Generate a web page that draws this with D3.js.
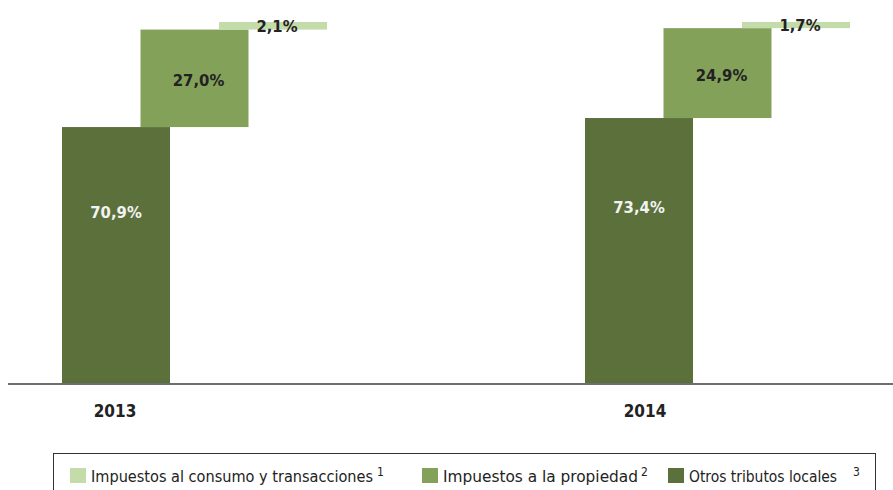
<!DOCTYPE html>
<html>
<head>
<meta charset="utf-8">
<script src="https://cdn.jsdelivr.net/npm/d3@7"></script>
<style>
  body { margin: 0; background: #fff; }
  svg { display: block; font-family: "DejaVu Sans Condensed", "DejaVu Sans", sans-serif; font-stretch: condensed; }
</style>
</head>
<body>
<script>
var years = ["2013", "2014"];
var series = ["Otros tributos locales", "Impuestos a la propiedad", "Impuestos al consumo y transacciones"];
var otros = [70.9, 73.4];
var propiedad = [27.0, 24.9];
var consumo = [2.1, 1.7];
var labels = [["70,9%", "73,4%"], ["27,0%", "24,9%"], ["2,1%", "1,7%"]];
var legendItems = [
  {name: "Impuestos al consumo y transacciones", sup: "1", color: "#c4dbaa"},
  {name: "Impuestos a la propiedad", sup: "2", color: "#84a15a"},
  {name: "Otros tributos locales", sup: "3", color: "#5c703c"}
];
var colors = ["#5c703c", "#84a15a", "#c4dbaa"];

var width = 893, height = 490;
var canvas = d3.select("body").append("svg")
    .attr("width", width).attr("height", height);

var x = d3.scalePoint().domain(years).range([62, 585]);
var step = d3.scaleLinear().domain([0, 2]).range([0, 157]);
var barW = 108;
var y = d3.scaleLinear().domain([0, 100]).range([383, 22]);

// build the floating segments
var segs = [];
years.forEach(function(yr, i) {
    var vals = [otros[i], propiedad[i], consumo[i]];
    var base = 0;
    vals.forEach(function(v, s) {
        segs.push({year: yr, s: s, y0: base, y1: base + v, v: v, label: labels[s][i]});
        base += v;
    });
});

canvas.append("g").selectAll("rect").data(segs).enter()
    .append("rect")
    .attr("x", function(d) { return x(d.year) + step(d.s); })
    .attr("y", function(d) { return y(d.y1); })
    .attr("width", barW)
    .attr("height", function(d) { return y(d.y0) - y(d.y1); })
    .attr("fill", function(d) { return colors[d.s]; });

canvas.append("g").selectAll("text").data(segs).enter()
    .append("text")
    .attr("x", function(d) { return x(d.year) + step(d.s) + barW / 2 + (d.s ? 4 : 0); })
    .attr("y", function(d) {
        if (d.s == 0) return y(d.v / 2 + 12);
        if (d.s == 1) return y(d.y0 + d.v / 2) + 2;
        return y(d.y0 + d.v / 2);
    })
    .attr("dy", "0.36em")
    .attr("text-anchor", "middle")
    .attr("font-weight", "bold")
    .attr("font-size", 16.5)
    .attr("fill", function(d) { return d.s == 0 ? "#f2f2f2" : "#222"; })
    .text(function(d) { return d.label; });

// baseline
canvas.append("line")
    .attr("x1", 8).attr("x2", width)
    .attr("y1", y(0) + 1).attr("y2", y(0) + 1)
    .attr("stroke", "#6e6e6e").attr("stroke-width", 2);

canvas.append("g").selectAll("text").data(years).enter()
    .append("text")
    .attr("x", function(d, i) { return x(d) + barW / 2 - 1 + i * 7; })
    .attr("y", 417)
    .attr("text-anchor", "middle")
    .attr("font-weight", "bold")
    .attr("font-size", 17)
    .attr("fill", "#222")
    .text(function(d) { return d; });

// legend
var lg = canvas.append("g");
lg.append("rect")
    .attr("x", 53.5).attr("y", 453.5)
    .attr("width", 822).attr("height", 60)
    .attr("fill", "none").attr("stroke", "#333");

var legendX = [70, 422, 668];
var nameW = [282, 195, 148];
var supGap = [4, 3, 16];
var item = lg.selectAll("g.item").data(legendItems).enter()
    .append("g")
    .attr("transform", function(d, i) { return "translate(" + legendX[i] + ",468)"; });
item.append("rect")
    .attr("width", 16).attr("height", 15)
    .attr("fill", function(d) { return d.color; });
var txt = item.append("text")
    .attr("x", 21).attr("y", 14)
    .attr("font-size", 16)
    .attr("fill", "#222");
txt.append("tspan")
    .attr("textLength", function(d, i) { return nameW[i]; })
    .attr("lengthAdjust", "spacingAndGlyphs")
    .text(function(d) { return d.name; });
txt.append("tspan")
    .attr("dx", function(d, i) { return supGap[i]; })
    .attr("dy", -6)
    .attr("font-size", 12)
    .text(function(d) { return d.sup; });
</script>
</body>
</html>
